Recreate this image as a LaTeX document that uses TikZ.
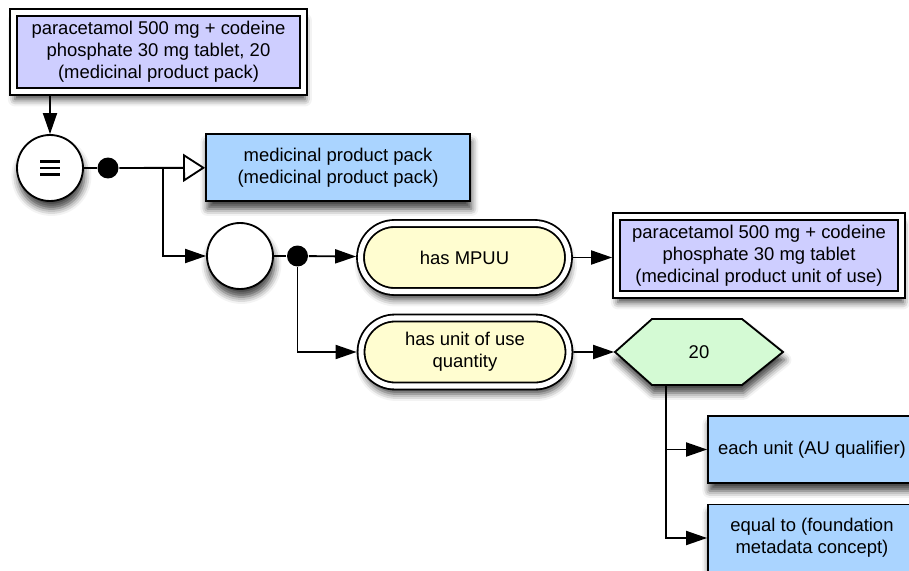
\documentclass[tikz,border=0pt]{standalone}
\usepackage{fontspec}
\setmainfont{Liberation Sans}
\usetikzlibrary{arrows.meta,shapes.misc,shadows.blur}
\definecolor{packfill}{RGB}{206,206,255}
\definecolor{classfill}{RGB}{170,212,255}
\definecolor{relfill}{RGB}{255,253,208}
\definecolor{valfill}{RGB}{212,250,212}
\begin{document}
\begin{tikzpicture}[x=0.02cm, y=-0.02cm, line width=1.05pt,
    every node/.style={font=\fontsize{10.5}{12.6}\selectfont, align=center, inner sep=0pt},
    softshadow/.style={blur shadow={shadow xshift=0.8pt, shadow yshift=-4.5pt, shadow blur radius=4pt, shadow opacity=75}},
    concept/.style={rectangle, draw, double=white, double distance=2.9pt, outer sep=2.5pt, fill=packfill, softshadow},
    classbox/.style={rectangle, draw, fill=classfill, softshadow, minimum width=4.16cm, minimum height=1.34cm},
    relation/.style={rounded rectangle, draw, double=white, double distance=2.9pt, outer sep=2.5pt, fill=relfill, softshadow, minimum width=4.16cm, minimum height=1.36cm},
    groupcirc/.style={circle, draw, fill=white, softshadow, minimum size=1.32cm},
    equivcirc/.style={groupcirc, path picture={
        \foreach \dy in {-6.5,0,6.5}
          \draw[line width=1.7pt] ([shift={(-10,\dy)}]path picture bounding box.center) -- +(20,0);}},
    attrdot/.style={circle, fill=black, minimum size=0.42cm},
    rel/.style={draw=black, -{Triangle[length=12pt,width=8pt,color=black,fill=black]}},
    isa/.style={draw=black, -{Triangle[open,length=12.5pt,width=15.9pt,color=black,fill=white]}}]
    \useasboundingbox (0,0) rectangle (909,571);
    %defining concept
    \node[concept, minimum width=5.8cm, minimum height=1.58cm] (mpp) at (158.5,52) {paracetamol 500 mg + codeine\\phosphate 30 mg tablet, 20\\(medicinal product pack)};
    \node[equivcirc] (eqv) at (50,168) {};
    \node[attrdot] (dotA) at (108,168) {};
    \coordinate (forkA) at (163,168);
    \node[classbox, minimum width=5.28cm] (mppclass) at (338,167.5) {medicinal product pack\\(medicinal product pack)};
    %role group
    \node[groupcirc] (grp) at (240,256) {};
    \node[attrdot] (dotB) at (297.5,256) {};
    \node[relation] (hasmpuu) at (464.5,257.5) {has MPUU};
    \node[concept, minimum width=5.7cm, minimum height=1.56cm] (mpuu) at (759,255.5) {paracetamol 500 mg + codeine\\phosphate 30 mg tablet\\(medicinal product unit of use)};
    \node[relation] (hasqty) at (465,352) {has unit of use\\quantity};
    %concrete value
    \path[draw, fill=valfill, softshadow] (615,352) -- (652,319) -- (742,319) -- (783,352) -- (742,385) -- (652,385) -- cycle;
    \node[minimum width=3.36cm, minimum height=1.32cm] (qty) at (699,352) {20};
    \coordinate (trunk) at (666,385);
    \node[classbox] (unit) at (812,449.5) {each unit (AU qualifier)};
    \node[classbox] (eqto) at (812,538) {equal to (foundation\\metadata concept)};
    %connectors
    \draw[rel] (mpp.south -| eqv.north) -- (eqv.north);
    \draw (eqv) -- (dotA);
    \draw[isa] (dotA) -- (mppclass);
    \draw[rel] (forkA) |- (grp);
    \draw (grp) -- (dotB);
    \draw[rel] (dotB) -- (hasmpuu);
    \draw[rel] (dotB) |- (hasqty);
    \draw[rel] (hasmpuu.east) -- (hasmpuu.east -| mpuu.west);
    \draw[rel] (hasqty) -- (qty);
    \draw[rel] (trunk) |- (unit);
    \draw[rel] (trunk) |- (eqto);
\end{tikzpicture}
\end{document}
